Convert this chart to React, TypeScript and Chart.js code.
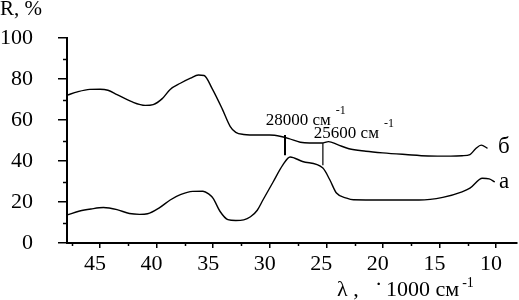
import React, { useEffect, useRef } from "react";
import { Chart, registerables } from "chart.js";

Chart.register(...registerables);

// ---- Data ----
const xTickValues = [45, 40, 35, 30, 25, 20, 15, 10];
const yTickValues = [0, 20, 40, 60, 80, 100];
const xMinorTicks = [47.5, 42.5, 37.5, 32.5, 27.5, 22.5, 17.5, 12.5];
const yMinorTicks = [10, 30, 50, 70, 90];

// curve "б" (upper)
const curveBx = [47.9, 47.0, 45.9, 45.0, 44.3, 43.5, 42.2, 41.0, 40.3, 39.5, 38.8, 37.9, 37.0, 36.3, 35.8, 35.1, 34.2, 33.5, 33.0, 32.3, 31.0, 30.0, 29.0, 28.3, 27.3, 26.5, 25.4, 24.8, 24.0, 23.0, 21.5, 20.0, 18.0, 16.0, 14.0, 13.0, 12.3, 11.8, 11.3, 10.75];
const curveBy = [72.2, 73.8, 75.0, 75.1, 74.6, 72.5, 69.0, 67.2, 67.6, 70.5, 75.0, 78.0, 80.5, 82.0, 81.8, 75.5, 65.5, 57.0, 54.0, 53.0, 52.7, 52.7, 52.0, 51.0, 49.2, 48.8, 48.8, 49.5, 48.0, 46.0, 44.8, 44.0, 43.2, 42.5, 42.4, 42.6, 43.2, 46.0, 47.8, 46.2];

// curve "а" (lower)
const curveAx = [47.9, 46.8, 45.8, 44.7, 43.5, 42.4, 41.5, 40.8, 39.7, 38.8, 37.9, 36.8, 35.9, 35.4, 35.0, 34.4, 33.7, 33.0, 32.3, 31.7, 31.1, 30.6, 29.7, 28.85, 28.2, 27.1, 25.3, 24.7, 24.1, 23.2, 22.6, 20.0, 16.8, 14.7, 13.0, 12.3, 11.2, 10.6, 10.1];
const curveAy = [13.7, 15.6, 16.6, 17.3, 16.3, 14.4, 14.0, 14.3, 17.4, 21.0, 23.6, 25.2, 25.3, 24.0, 21.8, 15.5, 11.4, 11.0, 11.3, 12.8, 16.0, 21.0, 29.8, 38.0, 42.0, 39.8, 36.6, 31.0, 24.4, 21.9, 21.1, 21.0, 21.0, 22.3, 25.0, 26.8, 31.6, 31.3, 29.8];

// band markers
const markerWave = [28.65, 25.3];
const markerTop = [52.7, 48.8];
const markerBottom = [42.9, 38.0];
const markerLabels = ["28000 см", "25600 см"];
const markerLabelX = [30.35, 26.1];
const markerLabelY = [57.6, 51.2];
const markerWidths = [2, 1.2];

// curve names
const seriesNames = ["б", "а"];
const seriesNameX = [9.82, 9.73];
const seriesNameY = [43.9, 26.8];

const FONT = `"Liberation Serif", "Times New Roman", serif`;

const decorPlugin = {
  id: "decor",
  afterDraw(chart: any) {
    const ctx = chart.ctx as CanvasRenderingContext2D;
    const xs = chart.scales.x;
    const ys = chart.scales.y;
    const area = chart.chartArea;
    ctx.save();
    ctx.strokeStyle = "#000";
    ctx.fillStyle = "#000";
    ctx.lineWidth = 1.5;
    // minor ticks
    yMinorTicks.forEach((v) => {
      const py = Math.round(ys.getPixelForValue(v)) + 0.5;
      ctx.beginPath();
      ctx.moveTo(area.left - 4, py);
      ctx.lineTo(area.left, py);
      ctx.stroke();
    });
    xMinorTicks.forEach((v) => {
      const px = Math.round(xs.getPixelForValue(v)) + 0.5;
      ctx.beginPath();
      ctx.moveTo(px, area.bottom);
      ctx.lineTo(px, area.bottom + 3);
      ctx.stroke();
    });
    // marker labels
    ctx.textAlign = "left";
    ctx.textBaseline = "alphabetic";
    markerLabels.forEach((t, i) => {
      const px = xs.getPixelForValue(markerLabelX[i]);
      const py = ys.getPixelForValue(markerLabelY[i]);
      ctx.font = `17px ${FONT}`;
      ctx.fillText(t, px, py);
      const w = ctx.measureText(t).width;
      ctx.font = `12px ${FONT}`;
      ctx.fillText("-1", px + w + 5, py - 11);
    });
    // series names
    ctx.font = `23px ${FONT}`;
    seriesNames.forEach((t, i) => {
      ctx.fillText(t, xs.getPixelForValue(seriesNameX[i]), ys.getPixelForValue(seriesNameY[i]));
    });
    // y title
    ctx.font = `21px ${FONT}`;
    ctx.fillText("R, %", 0, 15);
    // x title
    ctx.font = `22px ${FONT}`;
    ctx.fillText("λ ,", 337, 296);
    ctx.fillText("·", 375, 291);
    ctx.fillText("1000 см", 386, 296);
    const w2 = ctx.measureText("1000 см").width;
    ctx.font = `14px ${FONT}`;
    ctx.fillText("-1", 386 + w2 + 3, 287);
    ctx.restore();
  },
};

export default function App() {
  const ref = useRef<HTMLCanvasElement | null>(null);
  useEffect(() => {
    if (!ref.current) return;
    const markerDatasets = markerWave.map((w, i) => ({
      label: markerLabels[i],
      data: [
        { x: w, y: markerTop[i] },
        { x: w, y: markerBottom[i] },
      ],
      borderColor: "#000",
      borderWidth: markerWidths[i],
      pointRadius: 0,
      tension: 0,
    }));
    const chart = new Chart(ref.current, {
      type: "line",
      data: {
        datasets: [
          {
            label: seriesNames[0],
            data: curveBx.map((x, i) => ({ x, y: curveBy[i] })),
            borderColor: "#000",
            borderWidth: 1.4,
            pointRadius: 0,
            cubicInterpolationMode: "monotone",
          },
          {
            label: seriesNames[1],
            data: curveAx.map((x, i) => ({ x, y: curveAy[i] })),
            borderColor: "#000",
            borderWidth: 1.4,
            pointRadius: 0,
            cubicInterpolationMode: "monotone",
          },
          ...markerDatasets,
        ] as any,
      },
      options: {
        animation: false,
        responsive: false,
        devicePixelRatio: 1,
        layout: { padding: { top: 38, right: 2, left: 0, bottom: 0 } },
        plugins: { legend: { display: false }, tooltip: { enabled: false } },
        scales: {
          x: {
            type: "linear",
            reverse: true,
            min: 8.14,
            max: 47.92,
            afterFit: (s: any) => {
              s.height = 57;
            },
            afterBuildTicks: (s: any) => {
              s.ticks = xTickValues.map((v) => ({ value: v }));
            },
            border: { display: true, color: "#000", width: 2 },
            grid: {
              display: true,
              drawOnChartArea: false,
              drawTicks: true,
              tickLength: 5,
              color: "#000",
              lineWidth: 1.5,
            },
            ticks: {
              color: "#000",
              font: { family: FONT, size: 22 },
              padding: 3,
              labelOffset: -5,
              maxRotation: 0,
              autoSkip: false,
            },
          },
          y: {
            type: "linear",
            min: 0,
            max: 100,
            afterFit: (s: any) => {
              s.width = 67;
            },
            afterBuildTicks: (s: any) => {
              s.ticks = yTickValues.map((v) => ({ value: v }));
            },
            border: { display: true, color: "#000", width: 2 },
            grid: {
              display: true,
              drawOnChartArea: false,
              drawTicks: true,
              tickLength: 9,
              color: "#000",
              lineWidth: 1.5,
            },
            ticks: {
              color: "#000",
              font: { family: FONT, size: 22 },
              padding: 25,
              autoSkip: false,
            },
          },
        },
      },
      plugins: [decorPlugin],
    });
    return () => chart.destroy();
  }, []);
  return (
    <div style={{ position: "fixed", left: 0, top: 0, width: 519, height: 300, background: "#fff" }}>
      <canvas ref={ref} width={519} height={300} />
    </div>
  );
}
